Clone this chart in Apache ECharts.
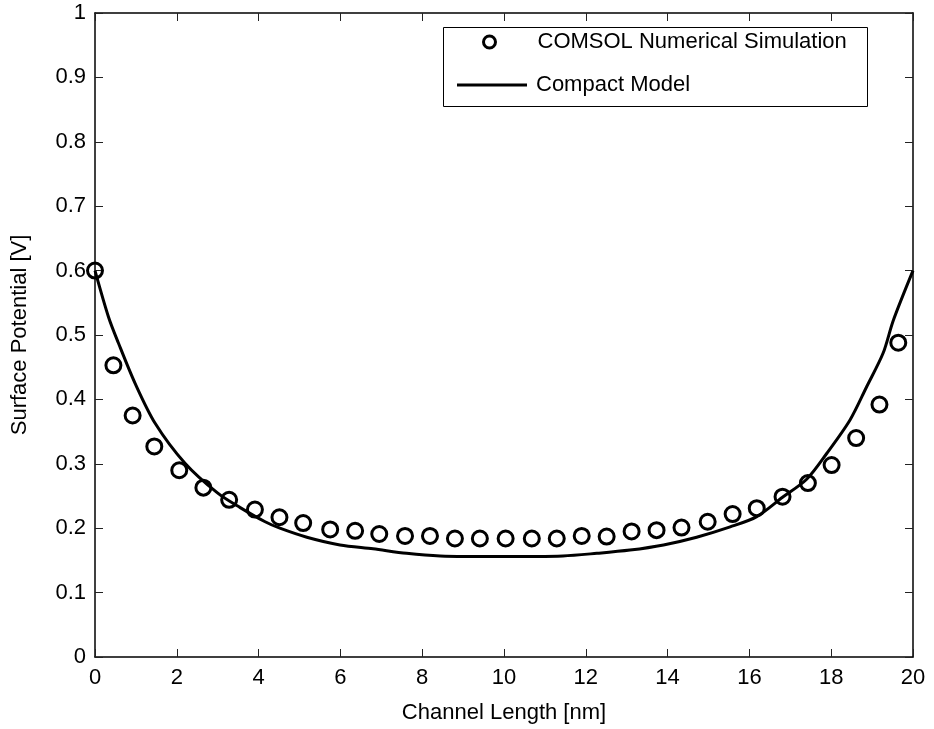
<!DOCTYPE html>
<html>
<head>
<meta charset="utf-8">
<script src="https://cdn.jsdelivr.net/npm/echarts@6/dist/echarts.min.js"></script>
<style>
html,body{margin:0;padding:0;background:#fff;}
#chart{width:934px;height:729px;}
</style>
</head>
<body>
<div id="chart"></div>
<script>
// COMSOL Numerical Simulation (circles)
const simX = [0, 0.45, 0.92, 1.45, 2.06, 2.65, 3.28, 3.91, 4.51, 5.09, 5.75, 6.36, 6.95, 7.58, 8.19, 8.80, 9.41, 10.04, 10.68, 11.29, 11.90, 12.51, 13.12, 13.73, 14.34, 14.98, 15.59, 16.18, 16.81, 17.43, 18.01, 18.61, 19.18, 19.64];
const simY = [0.600, 0.453, 0.375, 0.327, 0.290, 0.263, 0.244, 0.229, 0.217, 0.208, 0.198, 0.196, 0.191, 0.188, 0.188, 0.184, 0.184, 0.184, 0.184, 0.184, 0.188, 0.187, 0.195, 0.197, 0.201, 0.210, 0.222, 0.231, 0.249, 0.270, 0.298, 0.340, 0.392, 0.488];
// Compact Model (line)
const modelX = [0, 0.33, 0.57, 0.98, 1.47, 2.2, 3.01, 3.55, 4.16, 4.52, 5.18, 5.99, 6.80, 7.62, 8.44, 9.9, 11.44, 12.27, 13.08, 13.90, 14.71, 15.53, 16.18, 16.81, 17.40, 17.89, 18.46, 18.87, 19.27, 19.52, 20];
const modelY = [0.6, 0.528, 0.488, 0.425, 0.363, 0.301, 0.254, 0.232, 0.210, 0.200, 0.186, 0.174, 0.168, 0.161, 0.157, 0.156, 0.157, 0.161, 0.166, 0.174, 0.186, 0.202, 0.218, 0.248, 0.276, 0.316, 0.368, 0.420, 0.472, 0.523, 0.6];

const seriesNames = ['COMSOL Numerical Simulation', 'Compact Model'];
const xTitle = 'Channel Length [nm]';
const yTitle = 'Surface Potential [V]';

const FONT = 'Arial, "Liberation Sans", sans-serif';
const FS = 22;

const simData = simX.map((x, i) => [x, simY[i]]);
const modelData = modelX.map((x, i) => [x, modelY[i]]);

function tick() { return {show: true, inside: true, length: 8, lineStyle: {color: '#222', width: 1}}; }
function aline() { return {show: true, onZero: false, lineStyle: {color: '#000', width: 1.5}}; }

const chart = echarts.init(document.getElementById('chart'), null, {renderer: 'canvas'});
chart.setOption({
  animation: false,
  backgroundColor: '#fff',
  grid: {left: 95, right: 21, top: 13, bottom: 72, containLabel: false},
  xAxis: [
    {type: 'value', min: 0, max: 20, interval: 2, position: 'bottom',
     axisLine: aline(), axisTick: tick(), splitLine: {show: false},
     axisLabel: {color: '#000', fontFamily: FONT, fontSize: FS, margin: 10},
     name: xTitle, nameLocation: 'middle', nameGap: 45,
     nameTextStyle: {color: '#000', fontFamily: FONT, fontSize: FS}},
    {type: 'value', min: 0, max: 20, interval: 2, position: 'top',
     axisLine: aline(), axisTick: tick(), splitLine: {show: false},
     axisLabel: {show: false}}
  ],
  yAxis: [
    {type: 'value', min: 0, max: 1, interval: 0.1, position: 'left',
     axisLine: aline(), axisTick: tick(), splitLine: {show: false},
     axisLabel: {color: '#000', fontFamily: FONT, fontSize: FS, margin: 9},
     name: yTitle, nameLocation: 'middle', nameGap: 64, nameRotate: 90,
     nameTextStyle: {color: '#000', fontFamily: FONT, fontSize: FS}},
    {type: 'value', min: 0, max: 1, interval: 0.1, position: 'right',
     axisLine: aline(), axisTick: tick(), splitLine: {show: false},
     axisLabel: {show: false}}
  ],
  graphic: [{
    type: 'rect', left: 443, top: 27, z: 3,
    shape: {width: 424, height: 79},
    style: {fill: '#fff', stroke: '#000', lineWidth: 1}
  }],
  legend: [
    {data: [seriesNames[0]], left: 482, top: 31, padding: 0, orient: 'vertical',
     itemWidth: 12, itemHeight: 12, z: 5,
     itemStyle: {color: 'rgba(255,255,255,0)', borderColor: '#000', borderWidth: 3},
     textStyle: {color: '#000', fontFamily: FONT, fontSize: FS, lineHeight: 22, padding: [0, 0, 0, 37]}},
    {data: [{name: seriesNames[1], icon: 'rect'}], left: 457, top: 74, padding: 0, orient: 'vertical',
     itemWidth: 70, itemHeight: 3, z: 5,
     itemStyle: {color: '#000', borderWidth: 0},
     textStyle: {color: '#000', fontFamily: FONT, fontSize: FS, lineHeight: 22, padding: [0, 0, 0, 4]}}
  ],
  series: [
    {name: seriesNames[1], type: 'line', data: modelData, symbol: 'none', smooth: 0.3,
     xAxisIndex: 0, yAxisIndex: 0,
     lineStyle: {color: '#000', width: 3}, itemStyle: {color: '#000'}, z: 2},
    {name: seriesNames[0], type: 'scatter', data: simData, symbol: 'circle', symbolSize: 15,
     xAxisIndex: 0, yAxisIndex: 0,
     itemStyle: {color: 'rgba(255,255,255,0)', borderColor: '#000', borderWidth: 3, opacity: 1}, z: 3}
  ]
});
</script>
</body>
</html>
